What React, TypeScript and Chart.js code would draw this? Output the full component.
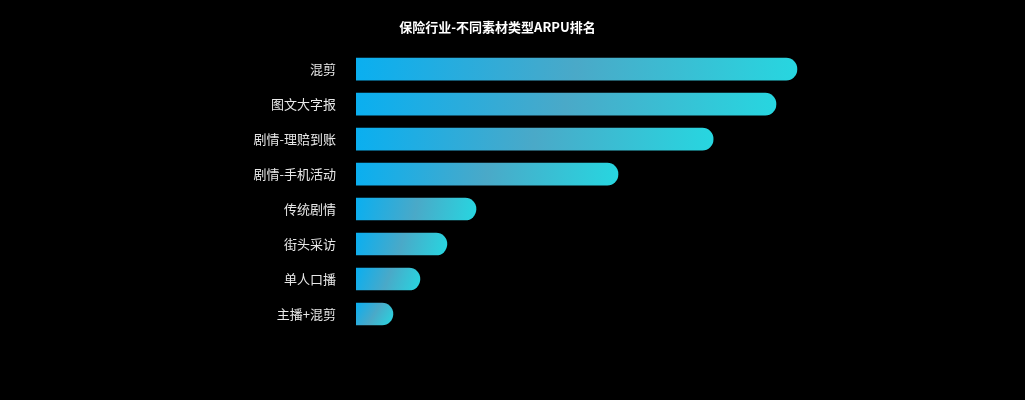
import { useEffect, useRef } from 'react';
import { Chart, registerables } from 'chart.js';

Chart.register(...registerables);

const categories = ['混剪', '图文大字报', '剧情-理赔到账', '剧情-手机活动', '传统剧情', '街头采访', '单人口播', '主播+混剪'];
const arpuValues = [12.42, 11.83, 10.06, 7.38, 3.38, 2.56, 1.8, 1.04];
const axisMax = 18;
const titleText = '保险行业-不同素材类型ARPU排名';

const FONT = '"Noto Sans CJK SC", "Noto Sans", sans-serif';

export default function App() {
  const canvasRef = useRef<HTMLCanvasElement | null>(null);
  const chartRef = useRef<Chart | null>(null);

  useEffect(() => {
    if (!canvasRef.current) return;
    if (chartRef.current) chartRef.current.destroy();
    const ctx = canvasRef.current.getContext('2d');
    if (!ctx) return;

    chartRef.current = new Chart(ctx, {
      type: 'bar',
      data: {
        labels: categories,
        datasets: [
          {
            label: 'ARPU',
            data: arpuValues,
            barThickness: 22,
            borderRadius: 11,
            borderSkipped: 'start',
            backgroundColor: (c: any) => {
              const chart = c.chart;
              const xs = chart.scales?.x;
              const ys = chart.scales?.y;
              if (!xs || !ys || c.dataIndex === undefined) return '#1ab8e6';
              const x0 = xs.getPixelForValue(0);
              const x1 = xs.getPixelForValue(arpuValues[c.dataIndex]);
              const yc = ys.getPixelForValue(c.dataIndex);
              if (![x0, x1, yc].every((v) => Number.isFinite(v))) return '#1ab8e6';
              const g = chart.ctx.createLinearGradient(x0, yc - 11, x1, yc + 11);
              g.addColorStop(0, '#0aaff0');
              g.addColorStop(0.5, '#4aa9c8');
              g.addColorStop(1, '#27d6e0');
              return g;
            },
          },
        ],
      },
      options: {
        indexAxis: 'y',
        animation: false,
        responsive: true,
        maintainAspectRatio: false,
        layout: { padding: { top: 0, right: 30, bottom: 68.5, left: 0 } },
        scales: {
          x: {
            display: false,
            min: 0,
            max: axisMax,
          },
          y: {
            grid: { display: false, drawTicks: false },
            border: { display: false },
            ticks: {
              color: '#e8e8e8',
              padding: 20,
              font: { family: FONT, size: 13 },
            },
            afterFit: (axis: any) => {
              axis.width = 356;
            },
          },
        },
        plugins: {
          legend: { display: false },
          tooltip: { enabled: false },
          title: {
            display: true,
            text: titleText,
            color: '#ffffff',
            padding: { top: 19, bottom: 17 },
            font: { family: FONT, size: 13, weight: 'bold' },
          },
        },
      } as any,
    });

    return () => {
      if (chartRef.current) {
        chartRef.current.destroy();
        chartRef.current = null;
      }
    };
  }, []);

  return (
    <div style={{ position: 'fixed', left: 0, top: 0, width: 1025, height: 400, background: '#000' }}>
      <canvas ref={canvasRef} />
    </div>
  );
}
